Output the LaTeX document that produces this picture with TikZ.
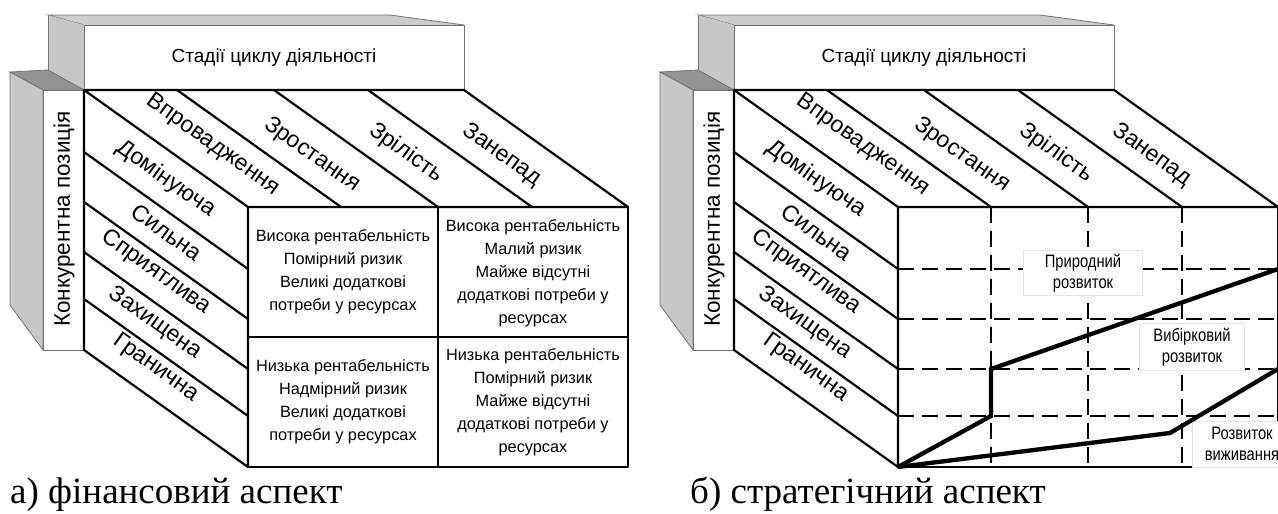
\documentclass[tikz,border=0pt]{standalone}
\usepackage{fontspec}
\setmainfont{Liberation Sans}
\newfontfamily\capfont{Liberation Serif}
\newfontfamily\narrowfont[FakeStretch=0.82]{Liberation Sans}

\tikzset{
  edge/.style={line width=2.2pt, line join=round},
  faint/.style={draw=black!55, line width=0.8pt},
  headtext/.style={font=\fontsize{19}{23}\selectfont},
  sidetext/.style={font=\fontsize{22.5}{26}\selectfont, rotate=90},
  slanttext/.style={font=\fontsize{23}{27}\selectfont, rotate=-35.5, inner sep=0pt},
  celltext/.style={font=\fontsize{16.3}{23}\selectfont, align=center},
  gridline/.style={line width=2pt, dash pattern=on 16pt off 8pt},
  route/.style={line width=4.3pt, line join=miter},
  tag/.style={fill=white, draw=black!10, line width=0.6pt,
    font=\narrowfont\fontsize{18}{21.5}\selectfont, align=center, inner sep=0pt},
  caption/.style={font=\capfont\fontsize{37}{42}\selectfont, anchor=base west, inner sep=0pt},
}

% The common frame: heading box, position box and the slanted block
\newcommand{\cubeframe}[1]{%
  % heading box (stages)
  \fill[black!20] (48,15) -- (390,15) -- (464,25) -- (84,25) -- cycle;
  \draw[faint] (84,25) -- (48,15) -- (390,15) -- (464,25);
  \fill[black!22] (48,15) -- (84,25) -- (84,90) -- (48,72) -- cycle;
  \draw[faint] (48,15) -- (48,72);
  \filldraw[faint, fill=white] (84,25) rectangle (464,90);
  \node[headtext] (#1-stages) at (274,58) {Стадії циклу діяльності};
  % position box
  \filldraw[faint, fill=black!42] (10,72) -- (48,70) -- (84,90) -- (43,90) -- cycle;
  \filldraw[faint, fill=black!22] (10,72) -- (43,90) -- (43,350) -- (10,305) -- cycle;
  \filldraw[faint, fill=white] (43,90) rectangle (84,350);
  \node[sidetext] (#1-position) at (64,219) {Конкурентна позиція};
  % slanted faces of the block
  \draw[edge] (84,90) -- (464,90) -- (628,207) -- (248,207) -- cycle;
  \draw[edge] (84,90) -- (84,350) -- (248,467) -- (248,207);
  \foreach \x in {177,274,368} \draw[edge] (\x,90) -- ++(164,117);
  \foreach \y in {152,202,252,299} \draw[edge] (84,\y) -- ++(164,117);
  % stages of the cycle
  \node[slanttext] (#1-intro)   at (213,145) {Впровадження};
  \node[slanttext] (#1-growth)  at (312,155) {Зростання};
  \node[slanttext] (#1-mature)  at (406,153) {Зрілість};
  \node[slanttext] (#1-decline) at (502,155) {Занепад};
  % competitive positions
  \node[slanttext] (#1-dom)    at (166,179) {Домінуюча};
  \node[slanttext] (#1-strong) at (167,232) {Сильна};
  \node[slanttext] (#1-fav)    at (156,272) {Сприятлива};
  \node[slanttext] (#1-prot)   at (155,323) {Захищена};
  \node[slanttext] (#1-edge)   at (156,368) {Гранична};
}

\begin{document}
\begin{tikzpicture}[x=1pt, y=-1pt]
\useasboundingbox (0,0) rectangle (1278,514);

% ---- a) financial aspect ----
\begin{scope}
  \cubeframe{fin}
  \draw[edge] (248,207) rectangle (628,467);
  \draw[edge] (438,207) -- (438,467);
  \draw[edge] (248,337) -- (628,337);
  \node[celltext] (fin-c11) at (343,272) {Висока рентабельність\\Помірний ризик\\Великі додаткові\\потреби у ресурсах};
  \node[celltext] (fin-c12) at (533,273) {Висока рентабельність\\Малий ризик\\Майже відсутні\\додаткові потреби у\\ресурсах};
  \node[celltext] (fin-c21) at (343,402) {Низька рентабельність\\Надмірний ризик\\Великі додаткові\\потреби у ресурсах};
  \node[celltext] (fin-c22) at (533,402) {Низька рентабельність\\Помірний ризик\\Майже відсутні\\додаткові потреби у\\ресурсах};
\end{scope}

% ---- b) strategic aspect ----
\begin{scope}[xshift=650pt]
  \cubeframe{str}
  \foreach \x in {341,438,532} \draw[gridline] (\x,207) -- (\x,467);
  \foreach \y in {269,319,369,416} \draw[gridline] (248,\y) -- (628,\y);
  \draw[edge] (248,207) rectangle (628,467);
  \node[tag, minimum width=119pt, minimum height=45pt] (str-natural) at (433,273) {Природний\\розвиток};
  \node[tag, minimum width=105pt, minimum height=47pt] (str-select) at (542,347) {Вибірковий\\розвиток};
  \node[tag, minimum width=100pt, minimum height=46pt] (str-survive) at (592,444) {Розвиток\\виживання};
  \coordinate (o) at (248,467);
  \coordinate (a) at (341,416);
  \coordinate (b) at (341,369);
  \coordinate (c) at (628,269);
  \coordinate (d) at (520,433);
  \coordinate (e) at (628,369);
  \draw[route] (o) -- (a) -- (b) -- (c);
  \draw[route] (o) -- (d) -- (e);
\end{scope}

% captions
\node[caption] (cap-a) at (10,503) {а) фінансовий аспект};
\node[caption] (cap-b) at (690,503) {б) стратегічний аспект};
\end{tikzpicture}
\end{document}
